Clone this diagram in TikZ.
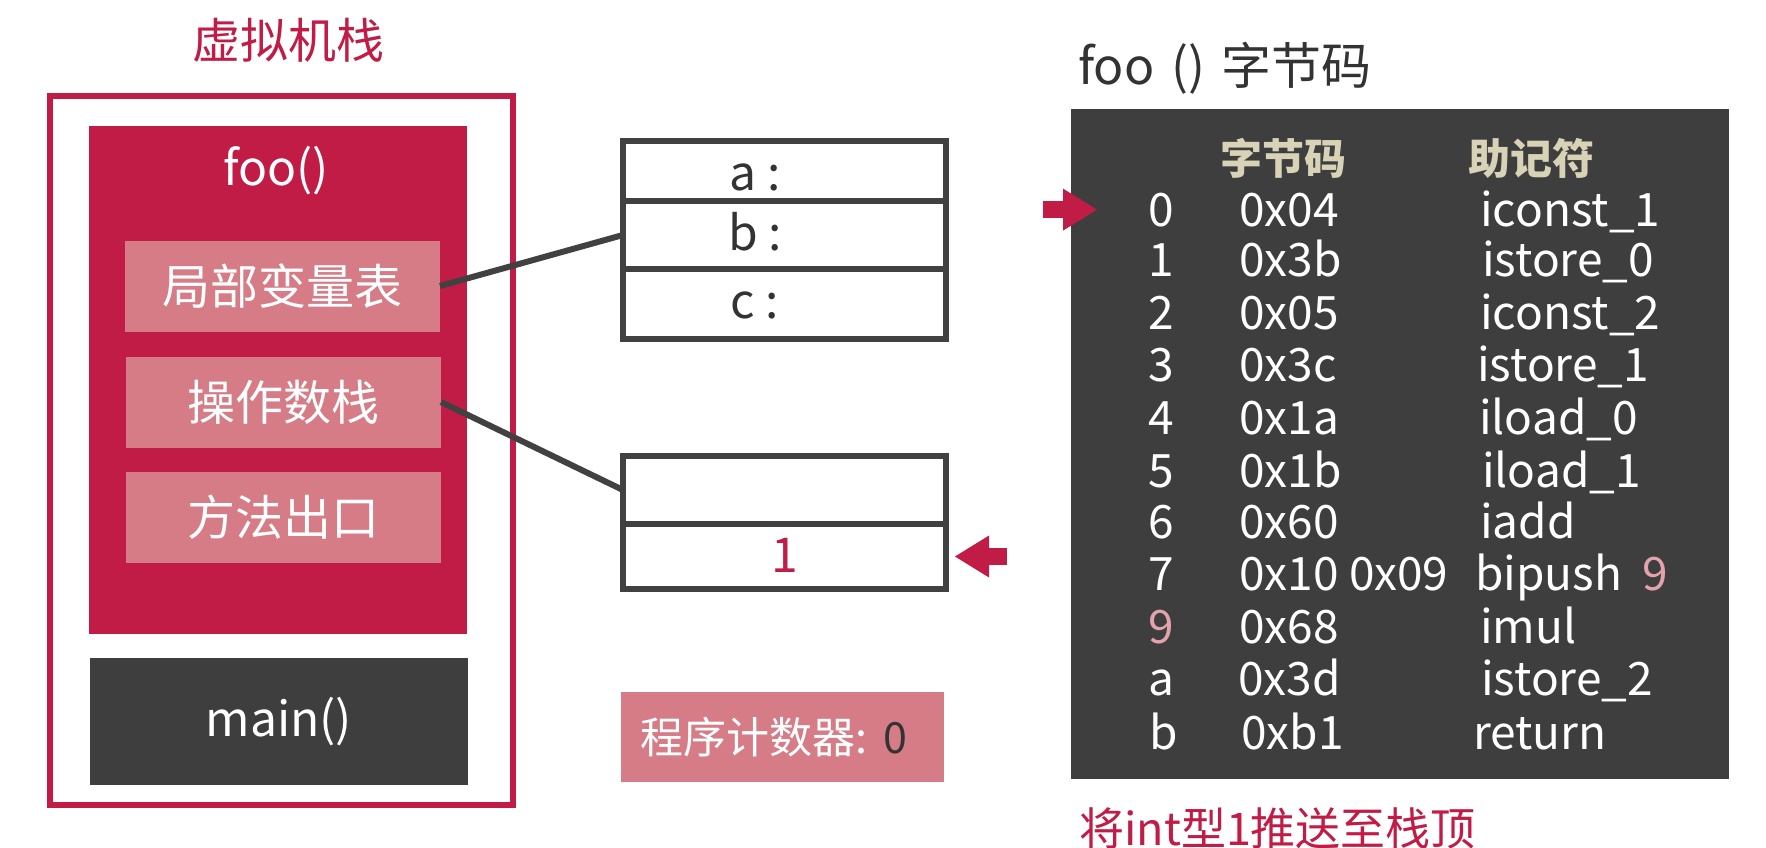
\documentclass[tikz,border=0pt]{standalone}
\usepackage{fontspec}
\setmainfont{Noto Sans CJK SC}
\usetikzlibrary{arrows.meta}
\definecolor{stack red}{HTML}{C11C45}
\definecolor{part pink}{HTML}{D67C87}
\definecolor{frame dark}{HTML}{3E3E3E}
\definecolor{slot line}{HTML}{414141}
\definecolor{caption dark}{HTML}{333333}
\definecolor{header beige}{HTML}{D8D2B6}
\definecolor{operand pink}{HTML}{E2A3AC}
\tikzset{
    x={1pt},
    y={-1pt},
    big text/.style={font={\fontsize{48}{56}\selectfont}},
    vm frame/.style={
        draw=stack red, line width={6pt},
        inner sep=0pt, outer sep=0pt,
    },
    frame block/.style={
        fill={#1}, text=white, big text,
        inner sep=0pt, outer sep=0pt,
        minimum width={378},
    },
    frame part/.style={
        fill=part pink, text=white, big text,
        inner sep=0pt, outer sep=0pt,
        minimum width={315}, minimum height={91},
    },
    slot/.style={
        draw=slot line, line width={6pt},
        inner sep=0pt, outer sep=0pt,
        minimum width={323}, minimum height={#1},
    },
    slot label/.style={
        anchor=base, text=caption dark, big text,
        inner sep=0pt,
    },
    link/.style={
        draw=slot line, line width={6pt},
    },
    pointer/.style={
        draw=stack red, line width={17pt},
        -{Triangle[length=34pt, width=42pt, line width=0pt]},
    },
    code line/.style={
        anchor=base west, text={#1}, inner sep=0pt,
        font={\fontsize{46}{52}\selectfont},
    },
    code line/.default={white},
    code header/.style={
        text=header beige, inner sep=0pt,
        font={\fontsize{42}{50}\selectfont\bfseries},
    },
}

\begin{document}
\begin{tikzpicture}
\useasboundingbox (0,0) rectangle (1766,848);
% virtual machine stack
\node[text=stack red, big text, inner sep=0pt] (vmtitle) at (288,40) {虚拟机栈};
\node[vm frame, minimum width={463}, minimum height={709}] (vm) at (281.5,450.5) {};
\node[frame block={stack red}, minimum height={508}] (foo) at (277.5,380) {};
\node[text=white, big text, inner sep=0pt] (fooname) at (276,171) {foo()};
\node[frame part] (locals) at (282.5,286) {局部变量表};
\node[frame part] (operands) at (283.5,402) {操作数栈};
\node[frame part] (exit) at (283.5,517) {方法出口};
\node[frame block={frame dark}, minimum height={127}] (main) at (279,721.5) {main()};
% local variable table
\node[slot={60}] (slota) at (784.5,171) {};
\node[slot={68}] (slotb) at (784.5,235) {};
\node[slot={70}] (slotc) at (784.5,304) {};
\node[slot label] (vara) at (755,190) {a :};
\node[slot label] (varb) at (755,250) {b :};
\node[slot label] (varc) at (755,318) {c :};
% operand stack
\node[slot={68}] (stack0) at (784.5,490) {};
\node[slot={65}] (stack1) at (784.5,556.5) {};
\node[slot label, text=stack red] (top) at (784.5,572) {1};
% program counter
\node[fill=part pink, text=white, inner sep=0pt, inner xsep=19pt,
      text width={285}, align=left, minimum height={90},
      font={\fontsize{43}{52}\selectfont}] (pc) at (782.5,737)
      {程序计数器:\hspace{17pt}\textcolor{caption dark}{0}};
% bytecode listing
\node[anchor=west, text=caption dark, inner sep=0pt, font={\fontsize{50}{58}\selectfont}] (codetitle) at (1078,68) {foo\,\,()\,\,字节码};
\node[fill=frame dark, inner sep=0pt, outer sep=0pt, minimum width={658}, minimum height={670}] (code) at (1400,444) {};
\node[code header] (headhex) at (1283,158) {字节码};
\node[code header] (headmne) at (1531,158) {助记符};
\node[code line] (idx0) at (1148,226) {0};
\node[code line] (hex0) at (1239,226) {0x04};
\node[code line] (mne0) at (1480,226) {iconst\_1};
\node[code line] (idx1) at (1148,276) {1};
\node[code line] (hex1) at (1239,276) {0x3b};
\node[code line] (mne1) at (1482,276) {istore\_0};
\node[code line] (idx2) at (1148,329) {2};
\node[code line] (hex2) at (1239,329) {0x05};
\node[code line] (mne2) at (1480,329) {iconst\_2};
\node[code line] (idx3) at (1148,381) {3};
\node[code line] (hex3) at (1239,381) {0x3c};
\node[code line] (mne3) at (1477,381) {istore\_1};
\node[code line] (idx4) at (1148,434) {4};
\node[code line] (hex4) at (1239,434) {0x1a};
\node[code line] (mne4) at (1479,434) {iload\_0};
\node[code line] (idx5) at (1148,487) {5};
\node[code line] (hex5) at (1239,487) {0x1b};
\node[code line] (mne5) at (1482,487) {iload\_1};
\node[code line] (idx6) at (1148,538) {6};
\node[code line] (hex6) at (1239,538) {0x60};
\node[code line] (mne6) at (1480,538) {iadd};
\node[code line] (idx7) at (1148,590) {7};
\node[code line] (hex7) at (1239,590) {0x10 0x09};
\node[code line] (mne7) at (1475,590) {bipush};
\node[code line={operand pink}] (arg7) at (1642,590) {9};
\node[code line={operand pink}] (idx9) at (1148,643) {9};
\node[code line] (hex9) at (1239,643) {0x68};
\node[code line] (mne9) at (1480,643) {imul};
\node[code line] (idxa) at (1148,695) {a};
\node[code line] (hexa) at (1238,695) {0x3d};
\node[code line] (mnea) at (1481,695) {istore\_2};
\node[code line] (idxb) at (1149,749) {b};
\node[code line] (hexb) at (1241,749) {0xb1};
\node[code line] (mneb) at (1473,749) {return};
\node[anchor=west, text=stack red, inner sep=0pt, font={\fontsize{45}{52}\selectfont}] (caption) at (1079,828) {将int型1推送至栈顶};
% connectors
\draw[link] (locals.east) -- (slotb.west);
\draw[link] (operands.east) -- (stack0.west);
% pointers
\draw[pointer] ([xshift=-105]idx0.west) -- ([xshift=-51]idx0.west);
\draw[pointer] ([xshift=61]stack1.east) -- ([xshift=9]stack1.east);
\end{tikzpicture}
\end{document}
